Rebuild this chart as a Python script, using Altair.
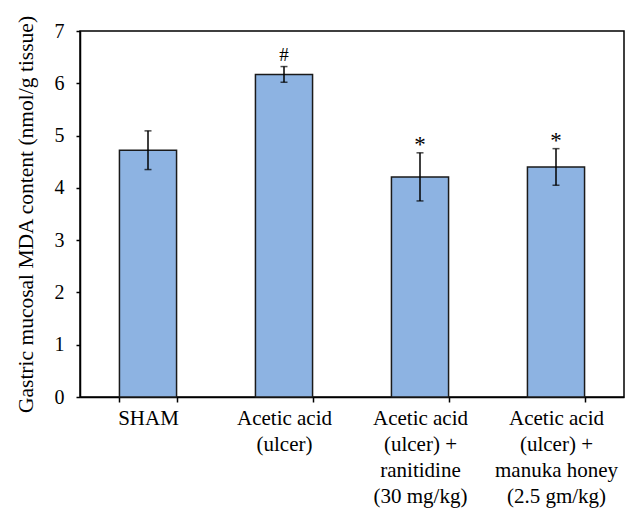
import altair as alt
import pandas as pd

groups = ["SHAM", "Acetic acid|(ulcer)", "Acetic acid|(ulcer) +|ranitidine|(30 mg/kg)",
          "Acetic acid|(ulcer) +|manuka honey|(2.5 gm/kg)"]
means = [4.72, 6.17, 4.21, 4.40]
errors = [0.37, 0.15, 0.46, 0.35]
marks = ["", "#", "*", "*"]

df = pd.DataFrame({
    "group": groups,
    "mean": means,
    "lo": [m - e for m, e in zip(means, errors)],
    "hi": [m + e for m, e in zip(means, errors)],
    "mark": marks,
})

FONT = "Liberation Serif"

x = alt.X("group:N", sort=groups, title=None,
          scale=alt.Scale(paddingInner=0.58, paddingOuter=0.29),
          axis=alt.Axis(labelExpr="split(datum.label, '|')", labelAngle=0,
                        labelFontSize=21, labelLineHeight=26, labelPadding=5,
                        labelFont=FONT, labelColor="black",
                        tickBand="extent", tickSize=5, tickColor="black",
                        domainColor="black", domainWidth=1.5, tickWidth=1.5))
y = alt.Y("mean:Q", scale=alt.Scale(domain=[0, 7]),
          title="Gastric mucosal MDA content (nmol/g tissue)",
          axis=alt.Axis(values=[0, 1, 2, 3, 4, 5, 6, 7], grid=False, format="d",
                        labelFontSize=20, labelFont=FONT, labelColor="black",
                        labelPadding=12, tickSize=4, tickColor="black", tickWidth=1.5,
                        domainColor="black", domainWidth=1.5,
                        titleFont=FONT, titleFontSize=21.5, titleFontWeight="normal",
                        titleColor="black", titlePadding=17))

xs = alt.X("group:N", sort=groups)
base = alt.Chart(df)
bars = base.mark_bar(color="#8db3e2", stroke="#1a1a1a", strokeWidth=1.5).encode(x=x, y=y)
rules = base.mark_rule(color="black", strokeWidth=1.5).encode(x=xs, y="lo:Q", y2="hi:Q")
cap_lo = base.mark_tick(color="black", thickness=1.5, size=7).encode(x=xs, y="lo:Q")
cap_hi = base.mark_tick(color="black", thickness=1.5, size=7).encode(x=xs, y="hi:Q")
hash_txt = base.transform_filter("datum.mark == '#'").mark_text(
    font=FONT, fontSize=19, baseline="bottom", dy=-2, color="black").encode(
    x=xs, y="hi:Q", text="mark:N")
star_txt = base.transform_filter("datum.mark == '*'").mark_text(
    font=FONT, fontSize=23, baseline="bottom", dy=4, color="black").encode(
    x=xs, y="hi:Q", text="mark:N")

chart = alt.layer(bars, rules, cap_lo, cap_hi, hash_txt, star_txt).properties(
    width=544, height=366,
    autosize=alt.AutoSizeParams(type="none"),
    padding={"left": 72, "top": 23, "right": 8, "bottom": 120},
).configure_view(stroke="black", strokeWidth=1.5)

chart.save("out.html", embed_options={"renderer": "svg", "actions": False})
